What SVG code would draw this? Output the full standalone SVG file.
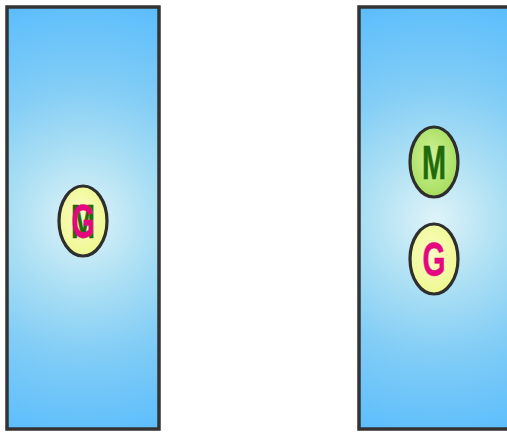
<svg xmlns="http://www.w3.org/2000/svg" width="507" height="432" viewBox="0 0 507 432">
  <defs>
    <radialGradient id="cellL" gradientUnits="userSpaceOnUse" cx="83" cy="220" r="225">
      <stop offset="0" stop-color="#dff3f8"/>
      <stop offset="0.3" stop-color="#ade0f4"/>
      <stop offset="0.6" stop-color="#82cdf6"/>
      <stop offset="1" stop-color="#5bbdfc"/>
    </radialGradient>
    <radialGradient id="cellR" gradientUnits="userSpaceOnUse" cx="435" cy="220" r="225">
      <stop offset="0" stop-color="#dff3f8"/>
      <stop offset="0.3" stop-color="#ade0f4"/>
      <stop offset="0.6" stop-color="#82cdf6"/>
      <stop offset="1" stop-color="#5bbdfc"/>
    </radialGradient>
    <radialGradient id="yellowFill" cx="0.45" cy="0.45" r="0.6">
      <stop offset="0" stop-color="#fbfdc8"/>
      <stop offset="1" stop-color="#eef78a"/>
    </radialGradient>
    <radialGradient id="greenFill" cx="0.45" cy="0.45" r="0.6">
      <stop offset="0" stop-color="#d2f29c"/>
      <stop offset="1" stop-color="#a2dc58"/>
    </radialGradient>
  </defs>
  <style>
    .cell { stroke: #333333; stroke-width: 3.5; }
    .body { stroke: #2e2e2e; stroke-width: 3.2; }
    .lbl { font-family: "Liberation Sans", Arial, sans-serif; font-weight: bold; font-size: 48px; text-anchor: middle; }
    .m { fill: #1f6b0a; stroke: #1f6b0a; stroke-width: 0.6; }
    .g { fill: #e5077f; stroke: #e5077f; stroke-width: 0.6; }
  </style>

  <g id="cell-left">
    <rect class="cell" x="7" y="7" width="152" height="422" fill="url(#cellL)"/>
  </g>
  <g id="cell-right">
    <rect class="cell" x="359" y="7" width="152" height="422" fill="url(#cellR)"/>
  </g>

  <g id="fused-MG">
    <ellipse class="body" cx="83" cy="221" rx="24" ry="35" fill="url(#yellowFill)"/>
    <text class="lbl m" x="83" y="238" textLength="24" lengthAdjust="spacingAndGlyphs">M</text>
    <text class="lbl g" x="83" y="238" textLength="23" lengthAdjust="spacingAndGlyphs">G</text>
  </g>

  <g id="node-M">
    <ellipse class="body" cx="434" cy="162" rx="24" ry="35" fill="url(#greenFill)"/>
    <text class="lbl m" x="434" y="179" textLength="24" lengthAdjust="spacingAndGlyphs">M</text>
  </g>

  <g id="node-G">
    <ellipse class="body" cx="434" cy="259" rx="24" ry="35" fill="url(#yellowFill)"/>
    <text class="lbl g" x="434" y="276" textLength="23" lengthAdjust="spacingAndGlyphs">G</text>
  </g>
</svg>
